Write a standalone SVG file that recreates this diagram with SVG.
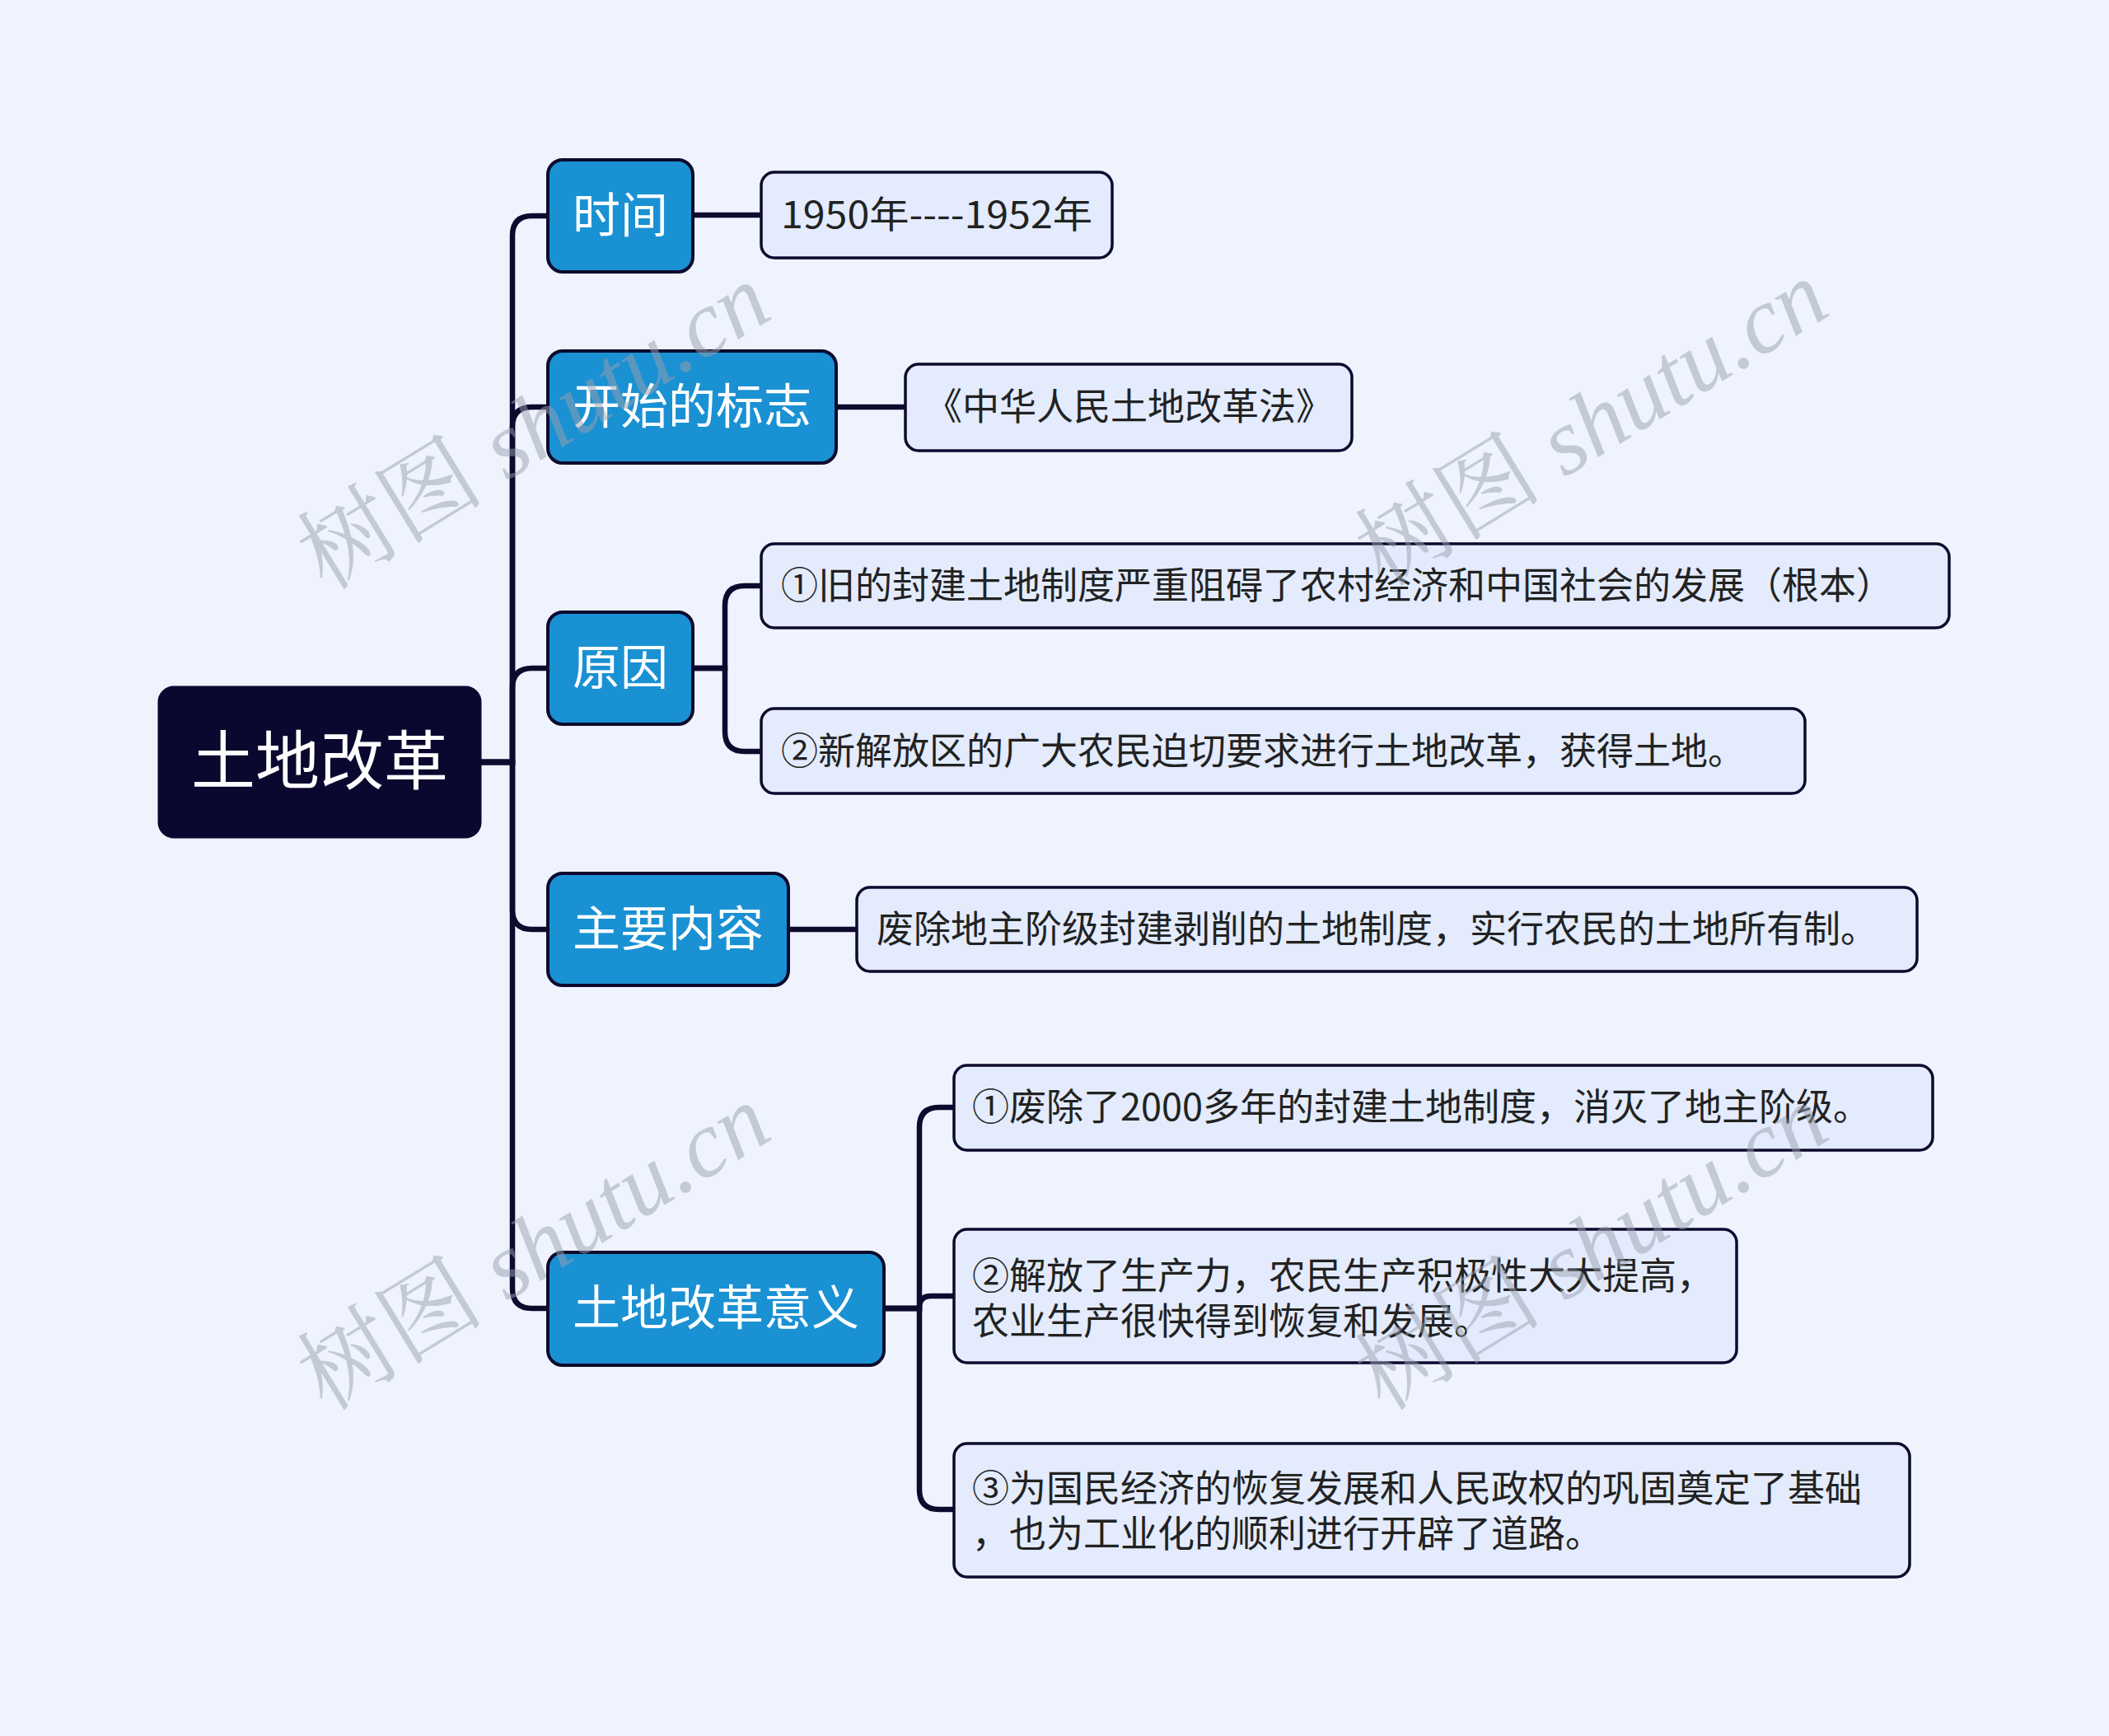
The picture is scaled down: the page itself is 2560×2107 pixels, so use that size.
<svg xmlns="http://www.w3.org/2000/svg" width="2560" height="2107" viewBox="0 0 2560 2107">
<style>
.bg{fill:#eef3fe}
.root rect{fill:#0b0830;stroke:#0b0830;stroke-width:3}
.root text{fill:#ffffff;font-family:"Noto Sans CJK SC","Noto Sans",sans-serif;font-size:78px;text-anchor:middle}
.main rect{fill:#1a91d3;stroke:#0d0a2e;stroke-width:4}
.main text{fill:#ffffff;font-family:"Noto Sans CJK SC","Noto Sans",sans-serif;font-size:58px;text-anchor:middle}
.leaf rect{fill:#e3ebfc;stroke:#0d0a2e;stroke-width:3.5}
.leaf text{fill:#222222;font-family:"Noto Sans CJK SC","Noto Sans",sans-serif;font-size:45px}
.conn path{fill:none;stroke:#0d0a2e;stroke-width:6.5;stroke-linecap:round}
.wm text{fill:#9aa0ad;fill-opacity:0.5;font-family:"Liberation Serif","Noto Serif CJK SC","Noto Sans CJK SC",serif;font-size:114px;text-anchor:middle}
.wm tspan{font-style:italic}
</style>
<rect class="bg" x="0" y="0" width="2560" height="2107"/>
<g class="conn">
<path d="M583,925 H622 V286 Q622,262 646,262 H665"/>
<path d="M583,925 H622 V518 Q622,494 646,494 H665"/>
<path d="M583,925 H622 V835 Q622,811 646,811 H665"/>
<path d="M583,925 H622 V1104 Q622,1128 646,1128 H665"/>
<path d="M583,925 H622 V1564 Q622,1588 646,1588 H665"/>
<path d="M841,261 H924"/>
<path d="M1016,494 H1099"/>
<path d="M841,811 H880 V735 Q880,711 904,711 H924"/>
<path d="M841,811 H880 V888 Q880,912 904,912 H924"/>
<path d="M957,1128 H1040"/>
<path d="M1073,1588 H1116 V1368 Q1116,1344 1140,1344 H1159"/>
<path d="M1073,1588 H1116 V1587 Q1116,1573 1130,1573 H1159"/>
<path d="M1073,1588 H1116 V1808 Q1116,1832 1140,1832 H1159"/>
</g>
<g id="root" class="root"><rect x="193" y="834" width="390" height="182" rx="18"/><text x="388" y="952">土地改革</text></g>
<g id="n-time" class="main"><rect x="665" y="194" width="176" height="136" rx="18"/><text x="753" y="282">时间</text></g>
<g id="n-start" class="main"><rect x="665" y="426" width="350" height="136" rx="18"/><text x="840" y="514">开始的标志</text></g>
<g id="n-reason" class="main"><rect x="665" y="743" width="176" height="136" rx="18"/><text x="753" y="831">原因</text></g>
<g id="n-content" class="main"><rect x="665" y="1060" width="292" height="136" rx="18"/><text x="811" y="1148">主要内容</text></g>
<g id="n-meaning" class="main"><rect x="665" y="1520" width="408" height="137" rx="18"/><text x="869" y="1608">土地改革意义</text></g>
<g id="l-time" class="leaf"><rect x="924" y="209" width="426" height="104" rx="16"/><text x="948" y="277" textLength="378" lengthAdjust="spacingAndGlyphs">1950年----1952年</text></g>
<g id="l-start" class="leaf"><rect x="1099" y="442" width="542" height="105" rx="16"/><text x="1123" y="510">《中华人民土地改革法》</text></g>
<g id="l-reason1" class="leaf"><rect x="924" y="660" width="1442" height="102" rx="16"/><text x="948" y="727">①旧的封建土地制度严重阻碍了农村经济和中国社会的发展（根本）</text></g>
<g id="l-reason2" class="leaf"><rect x="924" y="860" width="1267" height="103" rx="16"/><text x="948" y="928">②新解放区的广大农民迫切要求进行土地改革，获得土地。</text></g>
<g id="l-content" class="leaf"><rect x="1040" y="1077" width="1287" height="102" rx="16"/><text x="1064" y="1144">废除地主阶级封建剥削的土地制度，实行农民的土地所有制。</text></g>
<g id="l-mean1" class="leaf"><rect x="1158" y="1293" width="1188" height="103" rx="16"/><text x="1180" y="1360">①废除了2000多年的封建土地制度，消灭了地主阶级。</text></g>
<g id="l-mean2" class="leaf"><rect x="1158" y="1492" width="950" height="162" rx="16"/><text x="1180" y="1565">②解放了生产力，农民生产积极性大大提高，</text><text x="1180" y="1620">农业生产很快得到恢复和发展。</text></g>
<g id="l-mean3" class="leaf"><rect x="1158" y="1752" width="1160" height="162" rx="16"/><text x="1180" y="1823">③为国民经济的恢复发展和人民政权的巩固奠定了基础</text><text x="1180" y="1878">，也为工业化的顺利进行开辟了道路。</text></g>
<g class="wm">
<text transform="translate(648,518) rotate(-31.5)" dominant-baseline="central">树图 <tspan>shutu.cn</tspan></text>
<text transform="translate(1932,514) rotate(-31.5)" dominant-baseline="central">树图 <tspan>shutu.cn</tspan></text>
<text transform="translate(648,1514) rotate(-31.5)" dominant-baseline="central">树图 <tspan>shutu.cn</tspan></text>
<text transform="translate(1932,1514) rotate(-31.5)" dominant-baseline="central">树图 <tspan>shutu.cn</tspan></text>
</g>
</svg>
